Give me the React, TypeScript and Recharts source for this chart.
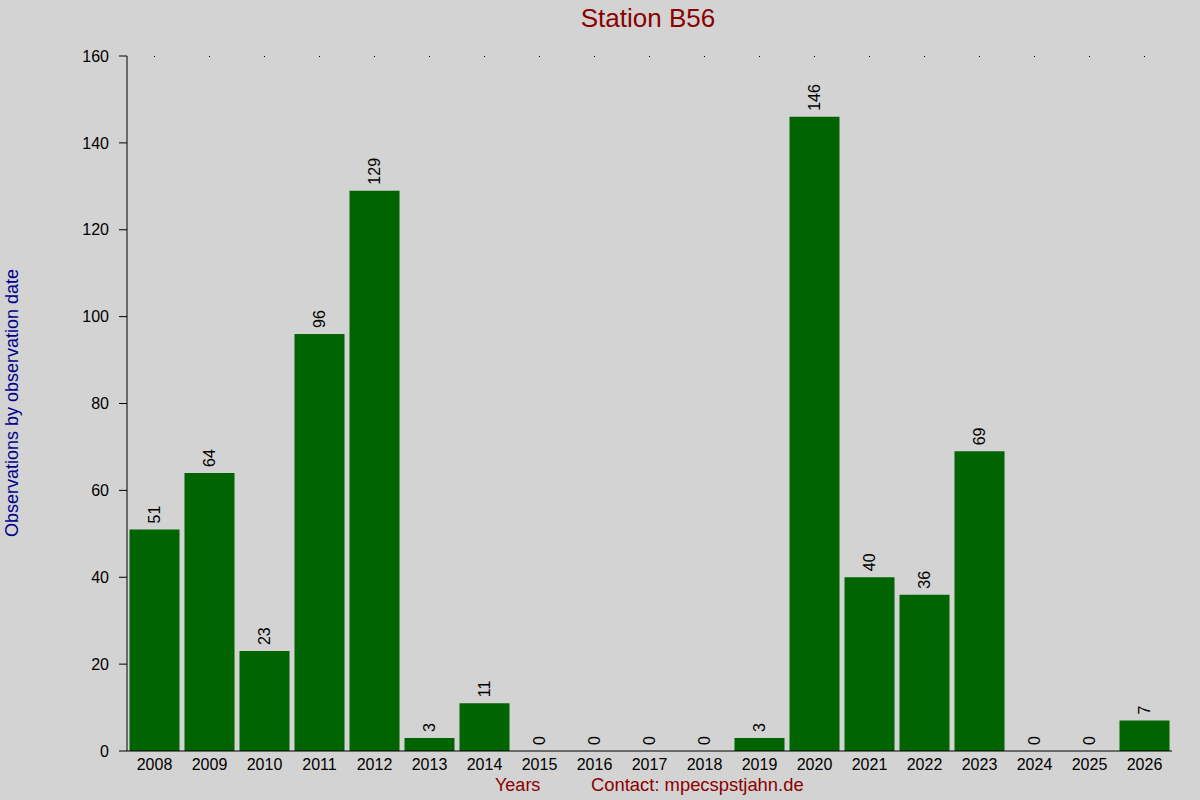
import React from "react";
import { ComposedChart, Bar, Scatter, XAxis, YAxis } from "recharts";

const years = ["2008","2009","2010","2011","2012","2013","2014","2015","2016","2017","2018","2019","2020","2021","2022","2023","2024","2025","2026"];
const counts = [51, 64, 23, 96, 129, 3, 11, 0, 0, 0, 0, 3, 146, 40, 36, 69, 0, 0, 7];
const yTicks = [0, 20, 40, 60, 80, 100, 120, 140, 160];

const data = years.map((y, i) => ({ year: y, value: counts[i] }));

const FONT = "'Liberation Sans', Arial, sans-serif";

const LabelShape = (props: any) => {
  const { cx, cy, payload } = props;
  return (
    <text
      transform={`translate(${cx},${Number(cy) - 6}) rotate(-90)`}
      textAnchor="start"
      dominantBaseline="central"
      fontSize={16}
      fontFamily={FONT}
      fill="#000"
    >
      {payload.value}
    </text>
  );
};

const TopDot = (props: any) => {
  const { x, y } = props;
  return (
    <rect
      x={Math.floor(Number(x))}
      y={Math.floor(Number(y))}
      width={1}
      height={1}
      fill="#000"
      shapeRendering="crispEdges"
    />
  );
};

export default function App() {
  return (
    <div style={{ position: "fixed", left: 0, top: 0, width: 1200, height: 800, background: "#d3d3d3", fontFamily: FONT }}>
      <ComposedChart
        width={1200}
        height={800}
        data={data}
        margin={{ top: 55, right: 28, bottom: 19, left: 0 }}
        barCategoryGap={2.5}
      >
        <XAxis
          xAxisId="bottom"
          dataKey="year"
          orientation="bottom"
          height={30}
          axisLine={{ stroke: "#000", strokeWidth: 1 }}
          tickLine={false}
          tickSize={0}
          tickMargin={8}
          tick={{ fill: "#000", fontSize: 16, fontFamily: FONT }}
          interval={0}
        />
        <XAxis
          xAxisId="top"
          dataKey="year"
          orientation="top"
          height={1}
          axisLine={false}
          tickLine={false}
          tickSize={0}
          tickMargin={0}
          tick={TopDot}
          interval={0}
        />
        <YAxis
          width={127}
          domain={[0, 160]}
          ticks={yTicks}
          interval={0}
          axisLine={{ stroke: "#000", strokeWidth: 1 }}
          tickLine={{ stroke: "#000", strokeWidth: 1 }}
          tickSize={8}
          tickMargin={10}
          tick={{ fill: "#000", fontSize: 16, fontFamily: FONT }}
        />
        <Bar xAxisId="bottom" dataKey="value" fill="#006400" isAnimationActive={false} />
        <Scatter xAxisId="top" dataKey="value" shape={LabelShape} isAnimationActive={false} />
      </ComposedChart>
      <svg
        width={1200}
        height={800}
        style={{ position: "absolute", left: 0, top: 0, pointerEvents: "none" }}
      >
        <text x={648} y={27} textAnchor="middle" fontSize={26} fontFamily={FONT} fill="#8b0000">
          Station B56
        </text>
        <text
          transform="translate(18,403) rotate(-90)"
          textAnchor="middle"
          fontSize={18}
          fontFamily={FONT}
          fill="#00008b"
        >
          Observations by observation date
        </text>
        <text x={495} y={791} textAnchor="start" fontSize={18} fontFamily={FONT} fill="#8b0000">
          Years
        </text>
        <text x={591} y={791} textAnchor="start" fontSize={18.4} fontFamily={FONT} fill="#8b0000">
          Contact: mpecspstjahn.de
        </text>
      </svg>
    </div>
  );
}
